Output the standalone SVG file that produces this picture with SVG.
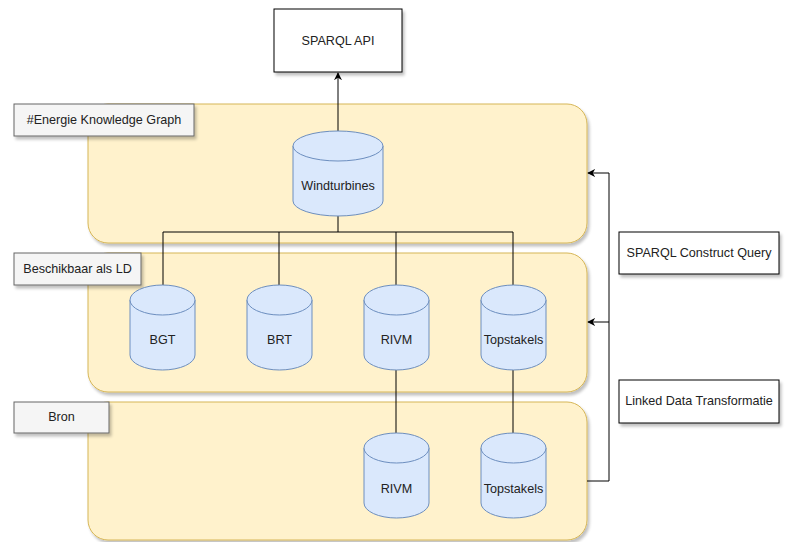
<svg xmlns="http://www.w3.org/2000/svg" width="786" height="542" viewBox="0 0 786 542">
<defs>
<filter id="sh" x="-10%" y="-10%" width="130%" height="140%">
<feGaussianBlur in="SourceAlpha" stdDeviation="1.5"/>
<feOffset dx="2" dy="3" result="o"/>
<feComponentTransfer><feFuncA type="linear" slope="0.25"/></feComponentTransfer>
<feMerge><feMergeNode/><feMergeNode in="SourceGraphic"/></feMerge>
</filter>
<marker id="ar" viewBox="0 0 10 10" refX="9" refY="5" markerWidth="8" markerHeight="8" markerUnits="userSpaceOnUse" orient="auto">
<path d="M0,0 L10,5 L0,10 L3,5 Z" fill="#000"/>
</marker>
</defs>
<style>
text{font-family:"Liberation Sans",Arial,sans-serif;font-size:12.6px;fill:#222;text-anchor:middle;dominant-baseline:central}
.cont{fill:#fff2cc;stroke:#d6b656;stroke-width:1}
.lbl{fill:#f5f5f5;stroke:#666;stroke-width:1}
.cyl{fill:#dae8fc;stroke:#6c8ebf;stroke-width:1}
.box{fill:#fff;stroke:#000;stroke-width:1}
.ln{fill:none;stroke:#000;stroke-width:1}
</style>
<g id="containers">
<rect id="c-ekg" class="cont" x="88" y="104" width="499" height="139" rx="20" filter="url(#sh)"/>
<rect id="c-ld" class="cont" x="88" y="253" width="499" height="139" rx="20" filter="url(#sh)"/>
<rect id="c-bron" class="cont" x="88" y="402" width="499" height="138" rx="20" filter="url(#sh)"/>
</g>
<g id="connectors">
<path class="ln" d="M338,131 V73" marker-end="url(#ar)"/>
<path class="ln" d="M338,216 V232 M163,285 V232 H513 V285 M279,232 V285 M396,232 V285"/>
<path class="ln" d="M396,370 V433 M513,370 V433"/>
<path class="ln" d="M587,481 H609 V173 H588" marker-end="url(#ar)"/>
<path class="ln" d="M609,322 H588" marker-end="url(#ar)"/>
</g>
<g id="n-api"><rect class="box" x="274" y="9" width="128" height="63" filter="url(#sh)"/><text x="338" y="41">SPARQL API</text></g>
<g id="l-ekg"><rect class="lbl" x="14" y="104" width="180" height="32" filter="url(#sh)"/><text x="104" y="120">#Energie Knowledge Graph</text></g>
<g id="l-ld"><rect class="lbl" x="14" y="253" width="127" height="32" filter="url(#sh)"/><text x="77.5" y="269">Beschikbaar als LD</text></g>
<g id="l-bron"><rect class="lbl" x="14" y="402" width="95" height="31" filter="url(#sh)"/><text x="61.5" y="417">Bron</text></g>
<g id="n-wind"><path class="cyl" d="M293,146 A45,15 0 0 1 383,146 V201 A45,15 0 0 1 293,201 Z"/><path class="cyl" d="M293,146 A45,15 0 0 0 383,146" fill="none"/><text x="338" y="186">Windturbines</text></g>
<g id="n-bgt"><path class="cyl" d="M130,300 A32.5,15 0 0 1 195,300 V355 A32.5,15 0 0 1 130,355 Z"/><path class="cyl" d="M130,300 A32.5,15 0 0 0 195,300" fill="none"/><text x="162.5" y="340">BGT</text></g>
<g id="n-brt"><path class="cyl" d="M247,300 A32.5,15 0 0 1 312,300 V355 A32.5,15 0 0 1 247,355 Z"/><path class="cyl" d="M247,300 A32.5,15 0 0 0 312,300" fill="none"/><text x="279.5" y="340">BRT</text></g>
<g id="n-rivm-ld"><path class="cyl" d="M364,300 A32.5,15 0 0 1 429,300 V355 A32.5,15 0 0 1 364,355 Z"/><path class="cyl" d="M364,300 A32.5,15 0 0 0 429,300" fill="none"/><text x="396.5" y="340">RIVM</text></g>
<g id="n-top-ld"><path class="cyl" d="M481,300 A32.5,15 0 0 1 546,300 V355 A32.5,15 0 0 1 481,355 Z"/><path class="cyl" d="M481,300 A32.5,15 0 0 0 546,300" fill="none"/><text x="513.5" y="340">Topstakels</text></g>
<g id="n-rivm-bron"><path class="cyl" d="M364,448 A32.5,15 0 0 1 429,448 V503 A32.5,15 0 0 1 364,503 Z"/><path class="cyl" d="M364,448 A32.5,15 0 0 0 429,448" fill="none"/><text x="396.5" y="489">RIVM</text></g>
<g id="n-top-bron"><path class="cyl" d="M481,448 A32.5,15 0 0 1 546,448 V503 A32.5,15 0 0 1 481,503 Z"/><path class="cyl" d="M481,448 A32.5,15 0 0 0 546,448" fill="none"/><text x="513.5" y="489">Topstakels</text></g>
<g id="n-construct"><rect class="box" x="619" y="232" width="160" height="42" filter="url(#sh)"/><text x="699" y="253">SPARQL Construct Query</text></g>
<g id="n-ldt"><rect class="box" x="619" y="380" width="160" height="43" filter="url(#sh)"/><text x="699" y="401">Linked Data Transformatie</text></g>
</svg>
